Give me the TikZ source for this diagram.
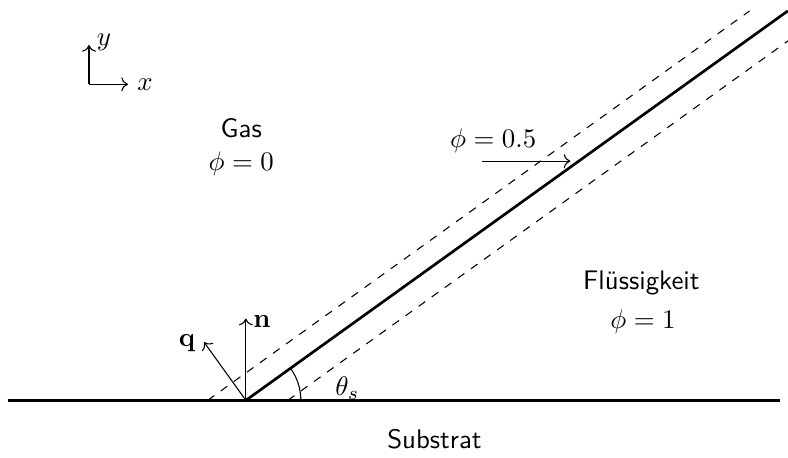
\documentclass[tikz,border=0pt]{standalone}
\usepackage{amsmath}
\usepackage{tikz}
\usetikzlibrary{arrows.meta,positioning,calc}

\begin{document}
\begin{tikzpicture}[x=1cm,y=1cm,font=\normalsize,
wall/.style={line width=1.3pt},
iface/.style={line width=1pt},
diffuse/.style={dashed,line width=.4pt},
vec/.style={->,line width=.4pt},
phase/.style={font=\sffamily}]

\clip(0,0)rectangle(10.32,5.99);
\useasboundingbox(0,0)rectangle(10.32,5.99);
% substrate and contact line
\coordinate(C)at(3.22,.747);
\coordinate(SL)at(.1,.747);
\coordinate(SR)at(10.22,.747);
\draw[wall](SL)--(SR);
\coordinate(IT)at($(C)+(35.7:8.74)$);
\draw[iface](C)--(IT);
\coordinate(UA)at(2.72,.747);
\coordinate(LA)at(3.77,.747);
\draw[diffuse](UA)--++(35.7:8.74);
\draw[diffuse](LA)--++(35.7:8.74);
% normals at the contact point
\coordinate(NT)at($(C)+(0,1.07)$);
\coordinate(QT)at($(C)+(125.7:.94)$);
\draw[vec](C)--(NT);
\draw[vec](C)--(QT);
\node(nlab)at(3.43,1.78){$\mathbf{n}$};
\node(qlab)at(2.45,1.49){$\mathbf{q}$};
\draw[line width=.4pt]($(C)+(.72,0)$)arc(0:35.7:.72);
\node(tlab)at(4.55,.9){$\theta_s$};
% axes
\coordinate(O)at(1.166,4.886);
\coordinate(OY)at(1.166,5.40);
\coordinate(OX)at(1.676,4.886);
\draw[vec](O)--(OY);
\draw[vec](O)--(OX);
\node(ylab)at(1.36,5.43){$y$};
\node(xlab)at(1.90,4.886){$x$};
% phases
\node[phase](gas)at(3.16,4.31){Gas};
\node(gasphi)at(3.16,3.85){$\phi=0$};
\node(midphi)at(6.46,4.14){$\phi=0.5$};
\coordinate(MA)at(6.31,3.88);
\coordinate(MB)at(7.47,3.88);
\draw[vec](MA)--(MB);
\node[phase](liq)at(8.40,2.29){Flüssigkeit};
\node(liqphi)at(8.42,1.78){$\phi=1$};
\node[phase](sub)at(5.69,.236){Substrat};
\end{tikzpicture}
\end{document}
